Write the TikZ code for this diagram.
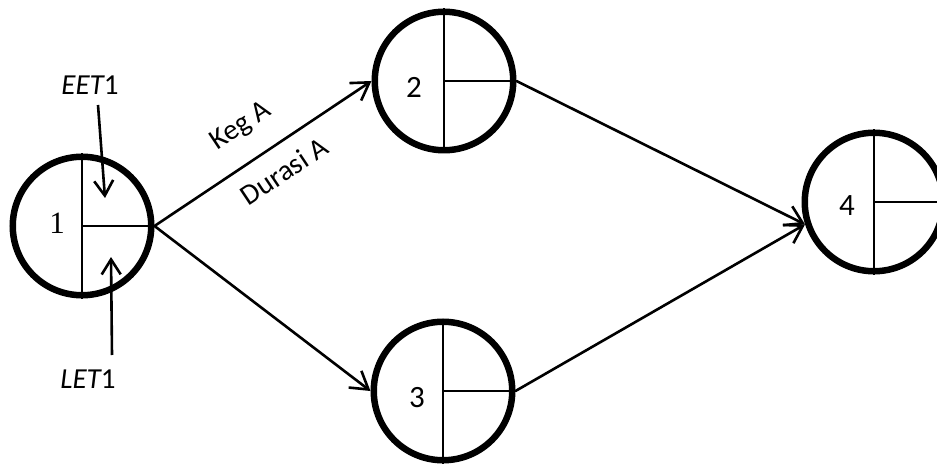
\documentclass[tikz,border=0pt]{standalone}
\usepackage{fontspec}
\setmainfont{Carlito}
\newfontfamily\numserif{Liberation Serif}
\usetikzlibrary{arrows.meta}
\begin{document}
\begin{tikzpicture}[x=1pt,y=-1pt,
  event/.style={circle,draw,line width=6.5pt,minimum size=138.5pt,inner sep=0pt},
  divider/.style={line width=1.9pt},
  flow/.style={line width=2.6pt,-{Straight Barb[length=17pt,width=21pt]}},
  pointer/.style={line width=2.6pt,-{Straight Barb[length=15pt,width=19pt]}},
  lbl/.style={font=\fontsize{29}{34}\selectfont,inner sep=0pt},
  num/.style={font=\fontsize{31}{34}\selectfont,inner sep=0pt},
]
\useasboundingbox (0,0) rectangle (937,465);
\clip (0,0) rectangle (937,465);

% event nodes
\node[event] (n1) at (82,226) {};
\node[event] (n2) at (444,81) {};
\node[event] (n3) at (443,391) {};
\node[event] (n4) at (874,202) {};

% inner dividers of each event circle
\foreach \n in {n1,n2,n3,n4}{
  \draw[divider] (\n.north) -- (\n.south);
  \draw[divider] (\n.center) -- (\n.east);
}

% event numbers
\node[num,font=\numserif\fontsize{31}{34}\selectfont] (k1) at (57,223) {1};
\node[num] (k2) at (414,87) {2};
\node[num] (k3) at (417,398) {3};
\node[num] (k4) at (847,206) {4};

% activities
\draw[flow] (n1.east) -- (n2.west);
\draw[flow] (n1.east) -- (n3.west);
\draw[flow] (n2.east) -- (n4.198);
\draw[flow] (n3.east) -- (n4.198);

% activity labels
\node[lbl,rotate=33.7] (keg) at (241,127) {Keg A};
\node[lbl,rotate=33.7] (dur) at (284,171) {Durasi A};

% earliest / latest event time markers
\node[lbl] (eet) at (90,85) {\itshape EET\upshape 1};
\node[lbl] (let) at (88,379) {\itshape LET\upshape 1};
\coordinate (eetTail) at (98,105);
\coordinate (eetTip) at (105,198);
\coordinate (letTail) at (112,355);
\coordinate (letTip) at (111,257);
\draw[pointer] (eetTail) -- (eetTip);
\draw[pointer] (letTail) -- (letTip);
\end{tikzpicture}
\end{document}
